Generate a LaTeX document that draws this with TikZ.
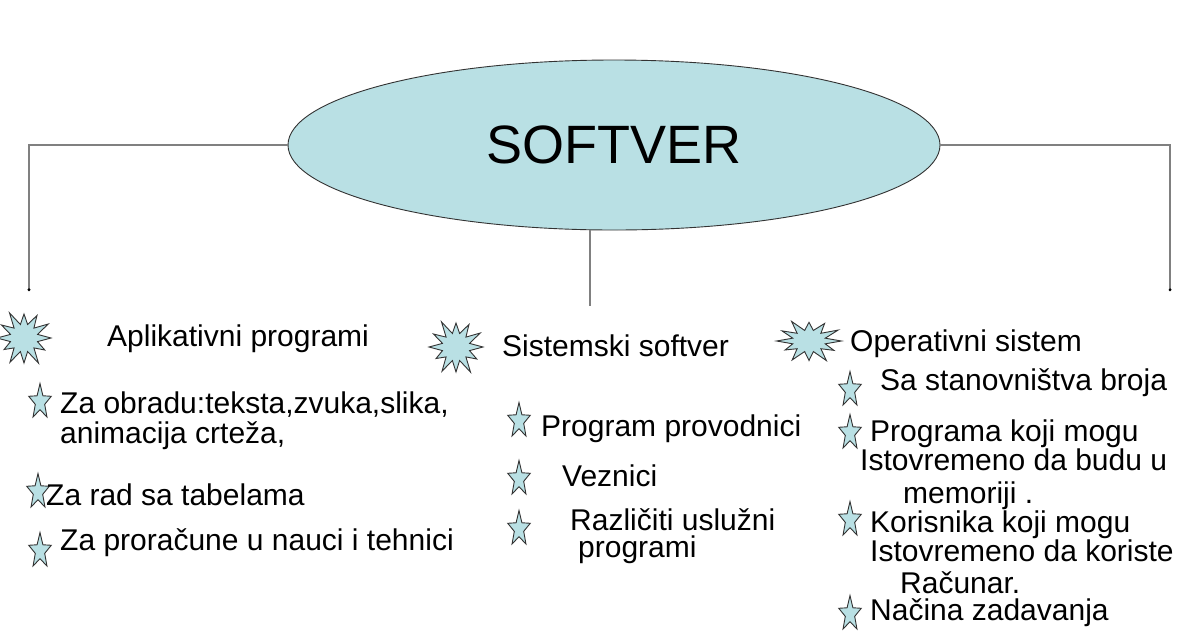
\documentclass[tikz,border=0pt]{standalone}
\usepackage{fontspec}
\setmainfont{Liberation Sans}
\usetikzlibrary{shapes.geometric,arrows.meta}
\definecolor{fillblue}{HTML}{B9E0E4}
\definecolor{linegray}{HTML}{808080}
\definecolor{edgedark}{HTML}{333333}
\begin{document}
\begin{tikzpicture}[x=1pt,y=-1pt,
  conn/.style={draw=linegray,line width=1.5pt},
  endconn/.style={conn,-{Circle[length=2.5pt,fill=black,black]}},
  burstsh/.style={draw=edgedark,fill=fillblue,line width=0.9pt,line join=miter},
  starnode/.style={shape=star,star points=5,star point ratio=2.4,minimum size=37pt,inner sep=0pt,
    draw=edgedark,fill=fillblue,line width=0.9pt,xscale=0.64,transform shape},
  txt/.style={anchor=base west,inner sep=0pt,font=\fontsize{30}{31}\selectfont},
  big/.style={font=\fontsize{54}{56}\selectfont}]
\useasboundingbox (0,0) rectangle (1200,630);
\fill[white] (0,0) rectangle (1200,630);

% central ellipse
\node[ellipse,draw=edgedark,fill=fillblue,line width=0.9pt,minimum width=652pt,minimum height=170pt,inner sep=0pt,big] (soft) at (614,145) {SOFTVER};

\coordinate (lend) at (29,291);
\coordinate (rend) at (1170,291);
\coordinate (mend) at (590,306);
\draw[endconn] (soft.west) -| (lend);
\draw[endconn] (soft.east) -| (rend);
\draw[conn] (mend |- soft.south) -- (mend);

% bursts
\draw[burstsh,shift={(24,338)}] (0:27)
  \foreach \a/\r in {15/14,30/24,45/14,60/29,75/14,90/25,105/14,120/28,135/14,150/23,165/14,180/27,195/14,210/26,225/14,240/29,255/14,270/24,285/14,300/26,315/14,330/28,345/14} { -- (\a:\r) } -- cycle;
\draw[burstsh,shift={(456,347)}] (0:27)
  \foreach \a/\r in {15/14,30/24,45/14,60/29,75/14,90/25,105/14,120/28,135/14,150/23,165/14,180/27,195/14,210/26,225/14,240/29,255/14,270/24,285/14,300/26,315/14,330/28,345/14} { -- (\a:\r) } -- cycle;
\draw[burstsh,shift={(809,341)},xscale=1.2,yscale=0.78] (0:27)
  \foreach \a/\r in {15/14,30/24,45/14,60/29,75/14,90/25,105/14,120/28,135/14,150/23,165/14,180/27,195/14,210/26,225/14,240/29,255/14,270/24,285/14,300/26,315/14,330/28,345/14} { -- (\a:\r) } -- cycle;

% headings
\node[txt] (hA) at (107,346) {Aplikativni programi};
\node[txt] (hS) at (502,356) {Sistemski softver};
\node[txt] (hO) at (850,351) {Operativni sistem};

% left column
\node[starnode] (a1) at (40,402) {};
\node[starnode] (a2) at (38,492) {};
\node[starnode] (a3) at (40,551) {};
\node[txt] (ta1) at (60,413) {Za obradu:teksta,zvuka,slika,};
\node[txt] (ta1b) at (60,443) {animacija crteža,};
\node[txt] (ta2) at (46,505) {Za rad sa tabelama};
\node[txt] (ta3) at (60,550) {Za proračune u nauci i tehnici};

% middle column
\node[starnode] (b1) at (519,421) {};
\node[starnode] (b2) at (519,479) {};
\node[starnode] (b3) at (519,529) {};
\node[txt] (tb1) at (541,436) {Program provodnici};
\node[txt] (tb2) at (562,486) {Veznici};
\node[txt] (tb3) at (570,530) {Različiti uslužni};
\node[txt] (tb3b) at (578,557) {programi};

% right column
\node[starnode] (c1) at (850,390) {};
\node[starnode] (c2) at (850,433) {};
\node[starnode] (c3) at (850,520) {};
\node[starnode] (c4) at (850,614) {};
\node[txt] (tc1) at (880,390) {Sa stanovništva broja};
\node[txt] (tc2) at (870,441) {Programa koji mogu};
\node[txt] (tc2b) at (860,470) {Istovremeno da budu u};
\node[txt] (tc2c) at (903,503) {memoriji .};
\node[txt] (tc3) at (870,532) {Korisnika koji mogu};
\node[txt] (tc3b) at (870,561) {Istovremeno da koriste};
\node[txt] (tc3c) at (900,593) {Računar.};
\node[txt] (tc4) at (870,620) {Načina zadavanja};
\end{tikzpicture}
\end{document}
